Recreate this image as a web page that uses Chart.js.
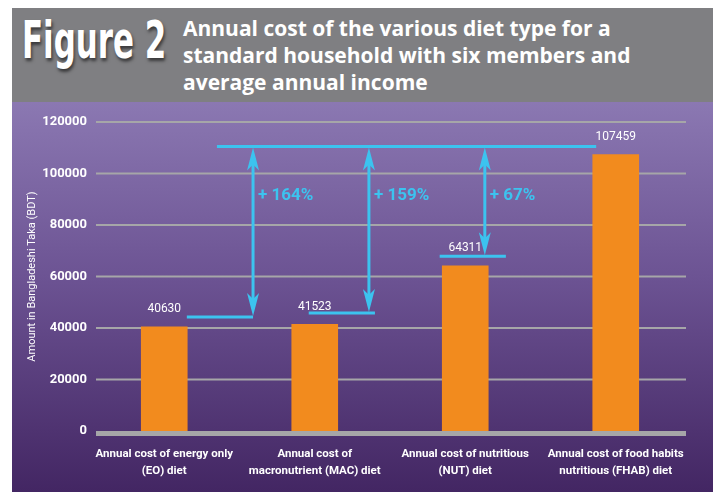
<!DOCTYPE html>
<html>
<head>
<meta charset="utf-8">
<script src="https://cdn.jsdelivr.net/npm/chart.js@4.4.1/dist/chart.umd.min.js"></script>
<style>
  body { margin: 0; background: #fff; width: 713px; height: 492px; overflow: hidden; position: relative; }
  #header { position: absolute; left: 12px; top: 8px; width: 701px; height: 94px; background: #7f7f82; }
  #fig { position: absolute; left: 10px; top: 2px; color: #fff; font-family: 'DejaVu Sans Condensed', 'DejaVu Sans', sans-serif;
         font-weight: bold; font-size: 52px; transform: scaleX(0.66); transform-origin: left top; text-shadow: 2px 3px 4px rgba(0,0,0,0.55);
         white-space: nowrap; }
  #title { position: absolute; left: 171px; top: 7px; color: #fff; font-family: 'Open Sans', sans-serif; font-weight: bold;
           font-size: 21px; line-height: 27px; white-space: nowrap; }
  #plot { position: absolute; left: 12px; top: 102px; width: 701px; height: 390px;
          background: linear-gradient(to bottom, #8b78b2 0%, #6c5393 45%, #432663 100%); }
</style>
</head>
<body>
<div id="header">
  <div id="fig">Figure 2</div>
  <div id="title">Annual cost of the various diet type for a<br>standard household with six members and<br>average annual income</div>
</div>
<div id="plot"><canvas id="canvas" width="701" height="390"></canvas></div>
<script>
// chart values
var categories = [
    ['Annual cost of energy only', '(EO) diet'],
    ['Annual cost of', 'macronutrient (MAC) diet'],
    ['Annual cost of nutritious', '(NUT) diet'],
    ['Annual cost of food habits', 'nutritious (FHAB) diet']
];
var annualCost = [40630, 41523, 64311, 107459];
var yTicks = [0, 20000, 40000, 60000, 80000, 100000, 120000];

// increase arrows (value of the reference line, base values, labels)
var refLevel = 110500;
var arrowBase = [44300, 45800, 67900];
var arrowLabels = ['+ 164%', '+ 159%', '+ 67%'];
// where they sit along the category axis (in category units)
var arrowAt = [0.59, 1.36, 2.13];
var baseFrom = [0.15, 0.96, 1.83];
var baseTo = [0.59, 1.40, 2.27];
var refFrom = 0.35, refTo = 2.87;

var FONT = "Roboto, 'Liberation Sans', sans-serif";
var CYAN = '#3cc3ef';

function catX(xs, v) {
    var x0 = xs.getPixelForValue(0), x1 = xs.getPixelForValue(1);
    return x0 + v * (x1 - x0);
}

function arrowHead(ctx, x, y, dir) {
    // dir -1 = pointing up, 1 = pointing down
    ctx.beginPath();
    ctx.moveTo(x, y);
    ctx.lineTo(x - 6, y - dir * 23);
    ctx.lineTo(x, y - dir * 17);
    ctx.lineTo(x + 6, y - dir * 23);
    ctx.closePath();
    ctx.fill();
}

var gridPlugin = {
    id: 'grid',
    beforeDatasetsDraw: function (chart) {
        var ctx = chart.ctx, ys = chart.scales.y, area = chart.chartArea;
        ctx.save();
        ctx.strokeStyle = '#a6a6a8';
        yTicks.forEach(function (t) {
            var y = ys.getPixelForValue(t);
            ctx.lineWidth = t === 0 ? 5 : 2;
            if (t === 0) y += 2.5;
            ctx.beginPath();
            ctx.moveTo(area.left + 7, y);
            ctx.lineTo(area.right - 5, y);
            ctx.stroke();
        });
        ctx.restore();
    }
};

var notesPlugin = {
    id: 'notes',
    afterDatasetsDraw: function (chart) {
        var ctx = chart.ctx, xs = chart.scales.x, ys = chart.scales.y;
        ctx.save();
        // value labels
        ctx.fillStyle = '#fff';
        ctx.font = '12px ' + FONT;
        ctx.textAlign = 'center';
        ctx.textBaseline = 'middle';
        annualCost.forEach(function (v, i) {
            ctx.fillText(v, xs.getPixelForValue(i), ys.getPixelForValue(v) - 17);
        });
        // arrows
        ctx.strokeStyle = CYAN;
        ctx.fillStyle = CYAN;
        ctx.lineWidth = 3;
        var yTop = ys.getPixelForValue(refLevel);
        ctx.beginPath();
        ctx.moveTo(catX(xs, refFrom), yTop);
        ctx.lineTo(catX(xs, refTo), yTop);
        ctx.stroke();
        arrowAt.forEach(function (a, i) {
            var x = catX(xs, a), yb = ys.getPixelForValue(arrowBase[i]);
            ctx.beginPath();
            ctx.moveTo(catX(xs, baseFrom[i]), yb);
            ctx.lineTo(catX(xs, baseTo[i]), yb);
            ctx.stroke();
            ctx.beginPath();
            ctx.moveTo(x, yTop + 15);
            ctx.lineTo(x, yb - 15);
            ctx.stroke();
            arrowHead(ctx, x, yTop + 1, -1);
            arrowHead(ctx, x, yb - 1, 1);
            ctx.font = 'bold 17px ' + FONT;
            ctx.textAlign = 'left';
            ctx.fillText(arrowLabels[i], x + 5, ys.getPixelForValue(91500));
        });
        ctx.restore();
    }
};

var config = {
    type: 'bar',
    data: {
        labels: categories,
        datasets: [{
            data: annualCost,
            backgroundColor: '#f28b1e',
            barPercentage: 0.62,
            categoryPercentage: 0.5
        }]
    },
    options: {
        responsive: false,
        animation: false,
        layout: { padding: { top: 20, right: 22, left: 0, bottom: 0 } },
        plugins: { legend: { display: false }, tooltip: { enabled: false } },
        scales: {
            x: {
                grid: { display: false, drawTicks: false },
                border: { display: false },
                ticks: {
                    color: '#fff',
                    font: { family: FONT, size: 11.5, weight: 'bold', lineHeight: 1.45 },
                    padding: 15,
                    maxRotation: 0,
                    autoSkip: false
                },
                afterFit: function (s) { s.height = 61; }
            },
            y: {
                min: 0,
                max: 120000,
                afterBuildTicks: function (s) { s.ticks = yTicks.map(function (v) { return { value: v }; }); },
                grid: { display: false, drawTicks: false },
                border: { display: false },
                ticks: {
                    color: '#fff',
                    font: { family: FONT, size: 13, weight: 'bold' },
                    padding: 2,
                    callback: function (v) { return String(v); }
                },
                title: {
                    display: true,
                    text: 'Amount in Bangladeshi Taka (BDT)',
                    color: '#fff',
                    font: { family: FONT, size: 11 },
                    padding: { top: 14, bottom: 0 }
                },
                afterFit: function (s) { s.width = 77; }
            }
        }
    },
    plugins: [gridPlugin, notesPlugin]
};

window.myBar = new Chart(document.getElementById('canvas'), config);
</script>
</body>
</html>
